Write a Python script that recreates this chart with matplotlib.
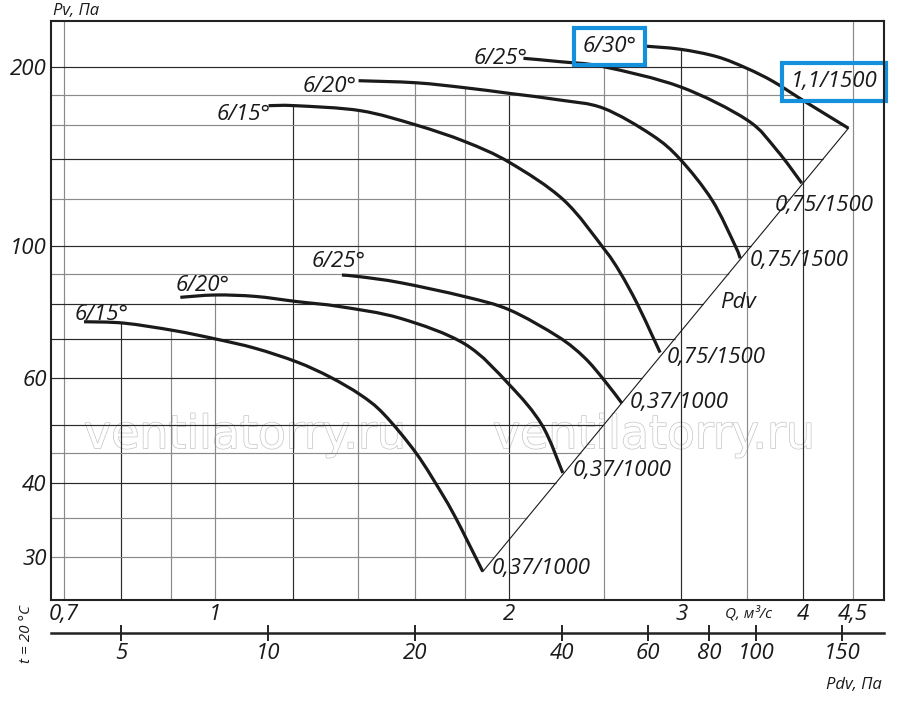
import numpy as np
import matplotlib
matplotlib.use("Agg")
import matplotlib.pyplot as plt
from matplotlib import patheffects
from matplotlib.path import Path
from matplotlib.patches import PathPatch
from matplotlib.ticker import NullLocator, NullFormatter

plt.rcParams['font.family'] = ['Open Sans', 'DejaVu Sans']
plt.rcParams['font.style'] = 'italic'

# fan curves: Q in m3/s, Pv in Pa
q_1000_15 = [0.734, 0.806, 0.907, 1.0, 1.099, 1.213, 1.311, 1.408, 1.487, 1.606, 1.713, 1.767, 1.810, 1.879]
p_1000_15 = [74.7, 74.3, 72.2, 69.9, 67.4, 63.9, 60.3, 56.3, 52.3, 44.9, 38.0, 34.7, 32.1, 28.4]
q_1000_20 = [0.921, 1.0, 1.099, 1.213, 1.342, 1.547, 1.802, 2.001, 2.160, 2.269]
p_1000_20 = [82.1, 82.85, 82.4, 80.75, 79.2, 75.7, 68.5, 58.5, 50.1, 41.6]
q_1000_25 = [1.348, 1.408, 1.547, 1.802, 2.001, 2.244, 2.386, 2.501, 2.608]
p_1000_25 = [89.5, 88.9, 86.9, 82.3, 78.2, 70.5, 65.1, 59.6, 54.5]
q_1500_15 = [1.134, 1.208, 1.408, 1.605, 1.802, 2.001, 2.273, 2.501, 2.598, 2.702, 2.805, 2.854]
p_1500_15 = [172.4, 172.4, 169.1, 160.0, 150.0, 138.4, 119.7, 99.0, 90.3, 80.3, 70.5, 66.3]
q_1500_20 = [1.402, 1.605, 1.802, 2.001, 2.255, 2.497, 2.799, 2.992, 3.225, 3.406, 3.447]
p_1500_20 = [189.9, 188.4, 184.8, 180.8, 176.2, 170.7, 153.9, 140.1, 119.7, 100.3, 95.5]
q_1500_25 = [2.068, 2.255, 2.497, 2.992, 3.502, 3.757, 3.986]
p_1500_25 = [207.1, 204.4, 200.5, 185.5, 163.2, 145.2, 127.7]
q_1500_30 = [2.744, 2.992, 3.263, 3.502, 3.728, 4.017, 4.449]
p_1500_30 = [217.2, 214.5, 208.4, 199.2, 189.2, 175.1, 158.0]

# dynamic pressure line
q_pdv = [1.879, 4.449]
p_pdv = [28.4, 158.0]

angle_labels = ['6/15°', '6/20°', '6/25°', '6/15°', '6/20°', '6/25°', '6/30°']
motor_labels = ['0,37/1000', '0,37/1000', '0,37/1000', '0,75/1500', '0,75/1500', '0,75/1500', '1,1/1500']

curves = [(q_1000_15, p_1000_15), (q_1000_20, p_1000_20), (q_1000_25, p_1000_25),
          (q_1500_15, p_1500_15), (q_1500_20, p_1500_20), (q_1500_25, p_1500_25),
          (q_1500_30, p_1500_30)]

grid_q = [0.7, 0.8, 0.9, 1, 1.2, 1.4, 1.6, 1.8, 2, 2.5, 3, 3.5, 4, 4.5]
grid_p = [30, 35, 40, 45, 50, 60, 70, 80, 90, 100, 120, 140, 160, 180, 200]
dark_q = [0.8, 1.2, 2, 3, 4]
dark_p = [200, 140, 100, 80, 70, 60, 50, 40]

q_ticks = [0.7, 1, 2, 3, 4, 4.5]
q_tick_labels = ['0,7', '1', '2', '3', '4', '4,5']
p_ticks = [30, 40, 60, 100, 200]
pdv_ticks = [5, 10, 20, 40, 60, 80, 100, 150]
k_pdv = 7.8

Q_MIN, Q_MAX = 0.679, 4.838
P_MIN, P_MAX = 25.47, 239.0

# label offsets in pixels (start label, end label)
start_off = [('left', -9, 2), ('left', -5, 6), ('left', -30, 8),
             ('right', 2, -14), ('right', -2, -11), ('right', 4, -6), ('right', -7, -6)]
end_off = [(9, -2), (10, -3), (8, -5), (7, -10), (10, -8), (-27, -28), (-58, 41)]
boxed = [False] * 6 + [True]


def log_interp(x, xs, ys):
    lx = np.log10(xs)
    ly = np.log10(ys)
    order = np.argsort(lx, kind='stable')
    return 10 ** np.interp(np.log10(x), lx[order], ly[order])


def smooth_path(qs, ps):
    # Catmull-Rom through the read points, as cubic Bezier segments in log-log space
    pts = np.column_stack([np.log10(qs), np.log10(ps)])
    ext = np.vstack([pts[0], pts, pts[-1]])
    verts = [pts[0]]
    codes = [Path.MOVETO]
    for i in range(len(pts) - 1):
        p0, p1, p2, p3 = ext[i], ext[i + 1], ext[i + 2], ext[i + 3]
        verts += [p1 + (p2 - p0) / 6, p2 - (p3 - p1) / 6, p2]
        codes += [Path.CURVE4] * 3
    return Path(10 ** np.array(verts), codes)


fig = plt.figure(figsize=(9, 7.03), dpi=100)
ax = fig.add_axes([51 / 900, 1 - 599.7 / 703, 833 / 900, 578.4 / 703])
ax.set_xscale('log')
ax.set_yscale('log')
ax.set_xlim(Q_MIN, Q_MAX)
ax.set_ylim(P_MIN, P_MAX)
ax.set_autoscale_on(False)

# grid lines stop at the outer curve envelope
for q in grid_q:
    tops = [log_interp(q, np.array(qs), np.array(ps)) for qs, ps in curves if qs[0] <= q <= qs[-1]]
    top = max(tops) if tops else P_MAX
    col = '#2a2a2a' if q in dark_q else '#8a8a8a'
    ax.vlines(q, P_MIN, top, colors=col, lw=0.85, zorder=2)

for p in grid_p:
    rights = []
    for qs, ps in curves + [(q_pdv, p_pdv)]:
        if min(ps) <= p <= max(ps):
            rights.append(log_interp(p, np.array(ps), np.array(qs)))
    right = max(rights) if rights else Q_MAX
    col = '#2a2a2a' if p in dark_p else '#8a8a8a'
    ax.hlines(p, Q_MIN, right, colors=col, lw=0.85, zorder=2)

ax.plot(q_pdv, p_pdv, color='#1a1a1a', lw=0.8, zorder=3)

blue = '#1490dc'
for i, (qs, ps) in enumerate(curves):
    ax.add_patch(PathPatch(smooth_path(qs, ps), fill=False, ec='#1a1a1a', lw=2.3,
                           capstyle='butt', zorder=4))
    ha, dx, dy = start_off[i]
    bb = dict(boxstyle='square,pad=0.38', fc='none', ec=blue, lw=3) if boxed[i] else None
    ax.annotate(angle_labels[i], xy=(qs[0], ps[0]), xytext=(dx, dy), textcoords='offset pixels',
                ha=ha, va='baseline', fontsize=16, color='#1a1a1a', bbox=bb, zorder=5)
    dx, dy = end_off[i]
    ax.annotate(motor_labels[i], xy=(qs[-1], ps[-1]), xytext=(dx, dy), textcoords='offset pixels',
                ha='left', va='baseline', fontsize=16, color='#1a1a1a', bbox=bb, zorder=5,
                annotation_clip=False)

ax.text(3.43, 80.6, 'Pdv', fontsize=16, ha='center', va='center', color='#1a1a1a', zorder=5)

# watermark
for xw in [0.233, 0.724]:
    ax.text(xw, 0.262, 'ventilatorry.ru', transform=ax.transAxes, ha='center', va='baseline',
            fontsize=33, family='DejaVu Sans', style='normal', color='white', zorder=1,
            path_effects=[patheffects.withStroke(linewidth=1, foreground='#c4c4c4')])

for s in ax.spines.values():
    s.set_linewidth(1.5)
    s.set_color('#222222')
    s.set_zorder(6)

ax.xaxis.set_minor_locator(NullLocator())
ax.yaxis.set_minor_locator(NullLocator())
ax.xaxis.set_minor_formatter(NullFormatter())
ax.yaxis.set_minor_formatter(NullFormatter())
ax.set_xticks(q_ticks, labels=q_tick_labels)
ax.set_yticks(p_ticks, labels=[str(v) for v in p_ticks])
ax.tick_params(length=0, labelsize=16, labelcolor='#1a1a1a')
ax.tick_params(axis='x', pad=3)
ax.tick_params(axis='y', pad=3)

# dynamic pressure scale under the Q axis
sec = ax.secondary_xaxis(-0.0576, functions=(lambda q: k_pdv * np.asarray(q) ** 2,
                                             lambda p: np.sqrt(np.clip(p, 1e-9, None) / k_pdv)))
sec.set_xticks(pdv_ticks, labels=[str(v) for v in pdv_ticks])
sec.xaxis.set_minor_locator(NullLocator())
sec.xaxis.set_minor_formatter(NullFormatter())
sec.tick_params(direction='inout', length=11, width=1.2, pad=2, labelsize=16, labelcolor='#1a1a1a')
for s in sec.spines.values():
    s.set_linewidth(1.8)
    s.set_color('#222222')

ax.text(3.512, -0.0247, 'Q, м³/с', transform=ax.get_xaxis_transform(), ha='center', va='center',
        fontsize=11, color='#1a1a1a')
fig.text(53 / 900, 1 - 11 / 703, 'Pv, Па', ha='left', va='center', fontsize=12, color='#1a1a1a')
fig.text(882 / 900, 1 - 685 / 703, 'Pdv, Па', ha='right', va='center', fontsize=12, color='#1a1a1a')
fig.text(26 / 900, 1 - 634 / 703, 't = 20 °C', rotation=90, ha='center', va='center', fontsize=11,
         color='#1a1a1a')

fig.savefig('out.png', dpi=100)
